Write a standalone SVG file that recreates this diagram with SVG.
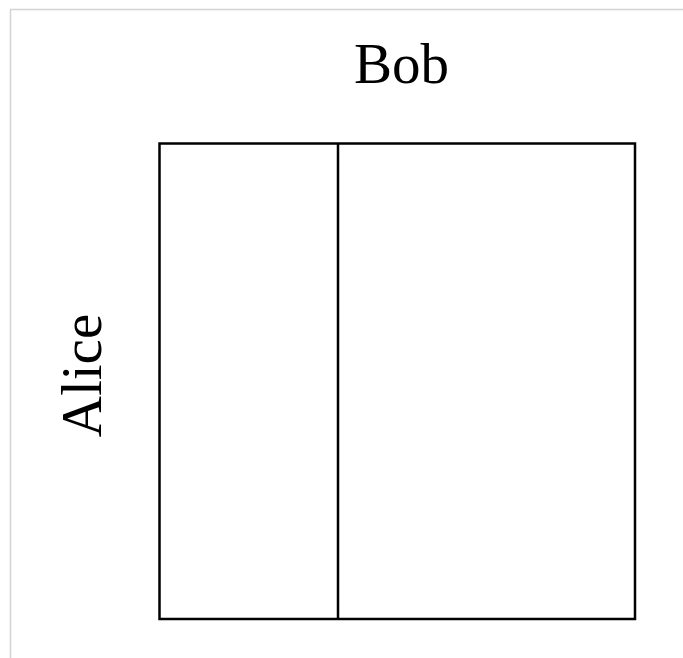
<svg xmlns="http://www.w3.org/2000/svg" width="683" height="658" viewBox="0 0 683 658">
<style>
.lbl{font-family:"Liberation Serif","Times New Roman",serif;font-size:57px;fill:#000;text-anchor:middle}
.box{fill:none;stroke:#000;stroke-width:2.5}
</style>
<rect x="0" y="0" width="683" height="658" fill="#fff"/>
<rect x="10.5" y="9.5" width="690" height="670" fill="none" stroke="#d3d3d3" stroke-width="1.5"/>
<g id="bob"><text class="lbl" x="401.5" y="83">Bob</text></g>
<g id="alice"><text class="lbl" transform="translate(101,375.5) rotate(-90)">Alice</text></g>
<g id="grid">
<rect class="box" x="159.5" y="143.5" width="475.5" height="475.5"/>
</g>
<g id="connectors">
<line class="box" x1="338" y1="143.5" x2="338" y2="619"/>
</g>
</svg>
